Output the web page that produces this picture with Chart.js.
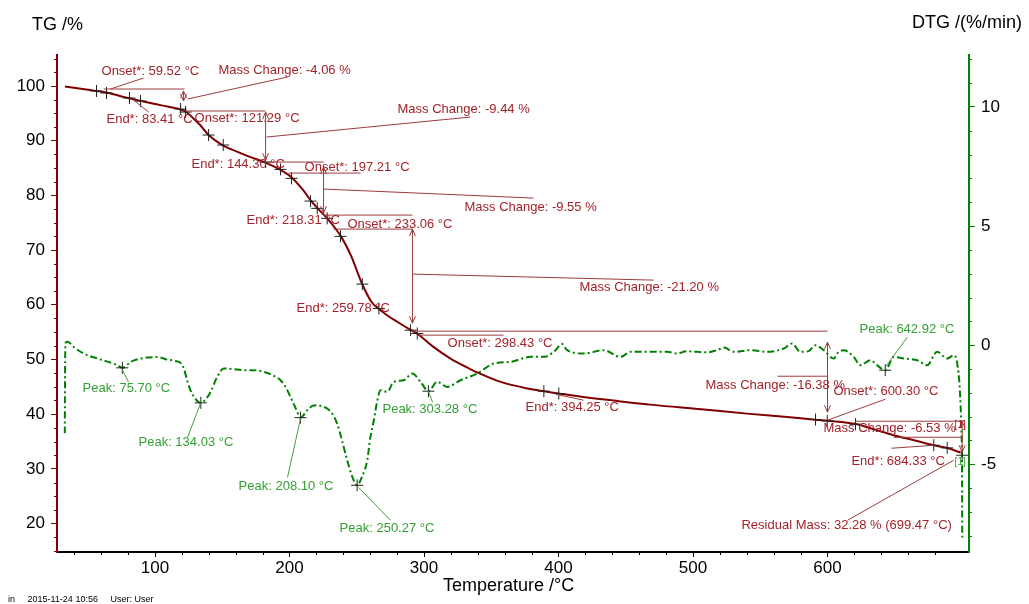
<!DOCTYPE html>
<html><head><meta charset="utf-8">
<script src="https://cdn.jsdelivr.net/npm/chart.js@4.4.1/dist/chart.umd.min.js"></script>
<style>html,body{margin:0;padding:0;background:#fff;}#wrap{width:1029px;height:604px;}</style>
</head><body><div id="wrap"><canvas id="c" width="1029" height="604"></canvas></div>
<script>
// ---- data ----
const tgTemp = [33,45,56.5,64,72,81,89,100,110,119,123,128,133,140,150,160,170,182,193,202,210,216,221,228,238,246,254,261,266,273,280,290,295,307,320,330,340,357,377,389,400,420,444,470,506,540,570,591,600,621,635,649,665,679,689,699];
const tgMass = [99.9,99.5,99.1,98.8,98.3,97.75,97.3,96.7,96.2,95.7,95.3,94.2,93.0,91.0,89.2,88.1,87.1,86.0,84.7,83.2,81.0,79.0,77.6,75.8,72.6,68.8,63.8,60.5,59.3,58.0,56.9,55.4,54.7,52.3,50.1,48.8,47.6,45.9,44.7,44.2,43.8,43.1,42.4,41.7,40.9,40.1,39.5,39.0,38.8,38.2,37.2,36.15,35.2,34.3,33.8,33.0];

const dtgTemp = [32.9,33.1,33.5,35,40,47,59.5,72,75.7,82,88,94,102,109,115,119,121.4,124,126.4,130,134,138,141.3,146.2,151.2,158,166,173,181,187,193.3,197,200.7,205,208.1,213.2,217,220.6,225,228,232,235.5,239,242.9,246.5,250.3,254,257.8,260,262.7,265,267.7,272.6,277.5,285,291.2,297.4,303.3,309.8,317.2,327.1,339.5,351.9,364.3,379.2,389,396.5,402.7,406.4,418.8,433.7,446.1,453.5,468.4,480.8,488.3,495,503.1,510,518,523,530.3,542.7,555,567.5,573.7,579.9,586,591,597.2,604.6,608,612,619.5,624.4,631.9,637,643,649.3,656.7,666.7,674,681.5,689,693.9,696.4,698.4,699.5,700,700.2];
const dtgRate = [-3.7,-1.0,0.1,0.14,-0.1,-0.35,-0.6,-0.84,-0.95,-0.7,-0.58,-0.52,-0.5,-0.6,-0.66,-0.74,-0.98,-1.5,-1.9,-2.25,-2.42,-2.25,-1.96,-1.33,-0.98,-1.0,-1.05,-1.05,-1.12,-1.25,-1.47,-1.75,-2.17,-2.7,-3.04,-2.73,-2.55,-2.52,-2.58,-2.66,-2.9,-3.31,-4.0,-4.83,-5.5,-5.88,-5.5,-4.83,-3.9,-3.15,-2.4,-1.89,-1.96,-1.54,-1.47,-1.19,-1.54,-1.93,-1.54,-1.75,-1.47,-1.19,-0.77,-0.7,-0.49,-0.49,-0.28,0.05,-0.21,-0.35,-0.21,-0.49,-0.28,-0.28,-0.28,-0.35,-0.25,-0.28,-0.3,-0.21,-0.1,-0.28,-0.21,-0.28,-0.14,0.07,-0.28,-0.25,0.0,-0.21,-0.56,-0.3,-0.21,-0.49,-0.84,-0.63,-0.85,-1.05,-0.49,-0.56,-0.63,-0.84,-0.28,-0.56,-0.42,-0.75,-1.89,-3.5,-5.1,-8.2];

const tgMarkTemp = [56.5,63.9,81.0,89.2,119.0,122.7,139.8,150.7,182.2,193.3,201.5,215.6,220.6,228.0,237.9,254.1,266.4,290.0,295.0,389.1,400.2,591.1,599.8,620.8,679.0,689.0,700.1];
const tgMarkMass = [99.09,98.72,97.80,97.26,95.79,95.24,91.04,89.21,86.10,84.76,83.11,78.96,77.63,75.80,72.51,63.78,59.33,55.36,54.76,44.20,43.78,39.02,38.77,38.16,34.32,33.83,32.49];

const peakTemp = [75.70,134.03,208.10,250.27,303.28,642.92];
const peakRate = [-0.95,-2.42,-3.04,-5.88,-1.93,-1.05];

const xTicks = [100,200,300,400,500,600];
const tgTicks = [20,30,40,50,60,70,80,90,100];
const dtgTicks = [-5,0,5,10];

// ---- annotations (temperature, value) ----
const RED = '#a3232b', REDL = '#9b3b3b', GRN = '#35a035', GRNL = '#3f9f3f';
const redTexts = [
 ['Onset*: 59.52 °C',60.2,102.74],['Mass Change: -4.06 %',147.2,102.93],
 ['End*: 83.41 °C',63.9,93.96],['Onset*: 121.29 °C',129.4,94.15],
 ['Mass Change: -9.44 %',280.3,95.79],['End*: 144.30 °C',127.1,85.73],
 ['Onset*: 197.21 °C',211.2,85.18],['Mass Change: -9.55 %',330.1,77.86],
 ['End*: 218.31 °C',168.0,75.49],['Onset*: 233.06 °C',243.1,74.75],
 ['Mass Change: -21.20 %',415.6,63.23],['End*: 259.78 °C',205.2,59.38],
 ['Onset*: 298.43 °C',317.5,52.98],['End*: 394.25 °C',375.5,41.27],
 ['Mass Change: -16.38 %',509.3,45.30],['Onset*: 600.30 °C',604.4,44.20],
 ['Mass Change: -6.53 %',597.0,37.43],['End*: 684.33 °C',617.8,31.40],
 ['Residual Mass: 32.28 % (699.47 °C)',536.0,19.68]
];
const greenTexts = [
 ['Peak: 75.70 °C',46.1,-1.81],['Peak: 134.03 °C',87.7,-4.08],
 ['Peak: 208.10 °C',162.1,-5.92],['Peak: 250.27 °C',237.2,-7.69],
 ['Peak: 303.28 °C',269.1,-2.69],['Peak: 642.92 °C',623.8,0.67]
];
const redLines = [
 [61.7,99.45,121.9,99.45],[66.9,99.45,91.4,101.46],[124.2,97.62,198.5,101.65],
 [84.0,97.44,95.2,95.24],[122.7,95.43,182.2,95.43],[182.9,90.67,334.6,94.33],
 [183.6,86.10,225.3,86.10],[199.3,84.08,252.8,84.08],[225.3,81.16,381.4,79.51],
 [225.3,76.40,291.4,76.40],[232.7,73.84,291.4,73.84],[291.4,65.61,470.6,64.51],
 [291.4,55.18,600.0,55.18],[295.2,54.45,359.1,54.45],[397.8,43.65,418.6,42.56],
 [562.8,46.94,600.0,46.94],[600.0,38.90,643.1,42.74],[620.8,38.71,701.3,38.71],
 [649.1,35.78,699.8,35.78],[647.5,33.77,679.4,34.32],[614.9,20.60,693.8,31.58]
];
const redArrows = [
 [121.2,99.09,97.26],[182.2,95.24,86.46],[225.3,85.18,76.77],
 [291.4,73.84,56.64],[600.0,53.17,40.36],[700.1,38.71,33.04]
];
const greenLines = [
 [75.1,-0.97,80.3,-1.55],[133.8,-2.44,124.2,-3.87],[208.2,-3.07,198.5,-5.55],
 [251.3,-5.97,275.1,-7.35],[303.3,-1.93,306.3,-2.39],[643.0,-0.92,659.4,0.34]
];

const FONT = '"Liberation Sans", Arial, sans-serif';

const annot = {
  id: 'annot',
  afterDatasetsDraw(chart) {
    const {ctx, scales} = chart;
    const X = scales.x, Y = scales.y, D = scales.y2;
    ctx.save();
    // red lines
    ctx.lineWidth = 1; ctx.strokeStyle = REDL;
    redLines.forEach(l => {
      ctx.beginPath();
      ctx.moveTo(X.getPixelForValue(l[0]), Y.getPixelForValue(l[1]));
      ctx.lineTo(X.getPixelForValue(l[2]), Y.getPixelForValue(l[3]));
      ctx.stroke();
    });
    redArrows.forEach(a => {
      const px = X.getPixelForValue(a[0]);
      const p1 = Y.getPixelForValue(a[1]), p2 = Y.getPixelForValue(a[2]);
      ctx.beginPath(); ctx.moveTo(px, p1); ctx.lineTo(px, p2); ctx.stroke();
      ctx.beginPath();
      ctx.moveTo(px - 3, p1 + 7); ctx.lineTo(px, p1); ctx.lineTo(px + 3, p1 + 7);
      ctx.moveTo(px - 3, p2 - 7); ctx.lineTo(px, p2); ctx.lineTo(px + 3, p2 - 7);
      ctx.stroke();
    });
    ctx.strokeStyle = GRNL;
    greenLines.forEach(l => {
      ctx.beginPath();
      ctx.moveTo(X.getPixelForValue(l[0]), D.getPixelForValue(l[1]));
      ctx.lineTo(X.getPixelForValue(l[2]), D.getPixelForValue(l[3]));
      ctx.stroke();
    });
    // texts
    ctx.font = '13px ' + FONT; ctx.textAlign = 'left'; ctx.textBaseline = 'middle';
    ctx.fillStyle = RED;
    redTexts.forEach(t => ctx.fillText(t[0], X.getPixelForValue(t[1]), Y.getPixelForValue(t[2])));
    ctx.fillStyle = GRN;
    greenTexts.forEach(t => ctx.fillText(t[0], X.getPixelForValue(t[1]), D.getPixelForValue(t[2])));
    ctx.font = '10px ' + FONT;
    ctx.fillStyle = RED; ctx.fillText('[1]', X.getPixelForValue(694.5), Y.getPixelForValue(38.0));
    ctx.fillStyle = GRN; ctx.fillText('[1]', X.getPixelForValue(694.5), Y.getPixelForValue(31.2));
    ctx.restore();
  },
  afterDraw(chart) {
    const {ctx, scales, chartArea} = chart;
    const X = scales.x, Y = scales.y, D = scales.y2;
    ctx.save();
    ctx.lineWidth = 1;
    // minor ticks
    ctx.strokeStyle = '#800000';
    for (let v = 15; v <= 105; v += 2.5) {
      if (v % 10 === 0) continue;
      const p = Math.round(Y.getPixelForValue(v)) + 0.5;
      ctx.beginPath(); ctx.moveTo(chartArea.left - 3, p); ctx.lineTo(chartArea.left, p); ctx.stroke();
    }
    ctx.strokeStyle = '#008000';
    for (let v = -8; v <= 12; v += 1) {
      if (v % 5 === 0) continue;
      const p = Math.round(D.getPixelForValue(v)) + 0.5;
      ctx.beginPath(); ctx.moveTo(chartArea.right, p); ctx.lineTo(chartArea.right + 3, p); ctx.stroke();
    }
    ctx.strokeStyle = '#000';
    for (let v = 40; v <= 700; v += 20) {
      if (v % 100 === 0) continue;
      const p = Math.round(X.getPixelForValue(v)) + 0.5;
      ctx.beginPath(); ctx.moveTo(p, chartArea.bottom); ctx.lineTo(p, chartArea.bottom + 3); ctx.stroke();
    }
    // titles
    ctx.fillStyle = '#000'; ctx.textBaseline = 'middle'; ctx.textAlign = 'left';
    ctx.font = '18px ' + FONT;
    ctx.fillText('TG /%', 32, 25);
    ctx.fillText('DTG /(%/min)', 912, 23);
    ctx.fillText('Temperature /°C', 443, 586);
    ctx.font = '9px ' + FONT;
    ctx.fillText('in     2015-11-24 10:56     User: User', 8, 600);
    ctx.restore();
  }
};

const toXY = (xs, ys) => xs.map((v, i) => ({x: v, y: ys[i]}));

new Chart(document.getElementById('c'), {
  type: 'line',
  data: {
    datasets: [
      {label: 'TG markers', data: toXY(tgMarkTemp, tgMarkMass), yAxisID: 'y', showLine: false,
       pointStyle: 'cross', pointRadius: 6, pointBorderColor: '#222', pointBorderWidth: 1, order: 0},
      {label: 'DTG peaks', data: toXY(peakTemp, peakRate), yAxisID: 'y2', showLine: false,
       pointStyle: 'cross', pointRadius: 6, pointBorderColor: '#222', pointBorderWidth: 1, order: 0},
      {label: 'TG', data: toXY(tgTemp, tgMass), yAxisID: 'y', borderColor: '#800000', borderWidth: 2,
       pointRadius: 0, cubicInterpolationMode: 'monotone', fill: false, order: 1},
      {label: 'DTG', data: toXY(dtgTemp, dtgRate), yAxisID: 'y2', borderColor: '#008000', borderWidth: 2,
       borderDash: [7, 3, 2, 3], pointRadius: 0, cubicInterpolationMode: 'monotone', fill: false, order: 2}
    ]
  },
  options: {
    responsive: false, animation: false, devicePixelRatio: 1,
    layout: {padding: {top: 55, left: 0, right: 0, bottom: 0}},
    plugins: {legend: {display: false}, tooltip: {enabled: false}},
    scales: {
      x: {type: 'linear', position: 'bottom', min: 27.1, max: 705.2,
        afterBuildTicks: s => { s.ticks = xTicks.map(v => ({value: v})); },
        afterFit: s => { s.height = 52; },
        ticks: {color: '#000', font: {family: FONT, size: 17}, padding: 1, maxRotation: 0},
        grid: {drawOnChartArea: false, tickLength: 5, color: '#000'},
        border: {color: '#000', width: 2}},
      y: {type: 'linear', position: 'left', min: 14.8, max: 105.67,
        afterBuildTicks: s => { s.ticks = tgTicks.map(v => ({value: v})); },
        afterFit: s => { s.width = 57; },
        ticks: {color: '#000', font: {family: FONT, size: 17}, padding: 6},
        grid: {drawOnChartArea: false, tickLength: 6, color: '#800000'},
        border: {color: '#800000', width: 2}},
      y2: {type: 'linear', position: 'right', min: -8.68, max: 12.18,
        afterBuildTicks: s => { s.ticks = dtgTicks.map(v => ({value: v})); },
        afterFit: s => { s.width = 60; },
        ticks: {color: '#000', font: {family: FONT, size: 17}, padding: 6},
        grid: {drawOnChartArea: false, tickLength: 6, color: '#008000'},
        border: {color: '#008000', width: 2}}
    }
  },
  plugins: [annot]
});
</script></body></html>
